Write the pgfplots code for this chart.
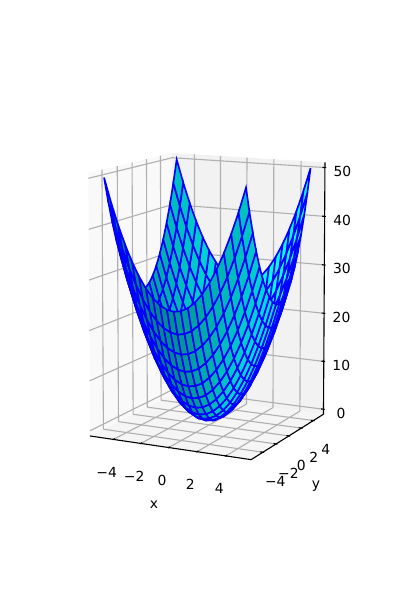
\documentclass[border=0pt]{standalone}
\usepackage{fontspec}
\setmainfont{DejaVu Sans}
\usepackage{pgfplots}
\pgfplotsset{compat=1.18}
% perspective projection (matplotlib elev 8, azim -63.5) instead of the parallel one of pgfplots
\makeatletter
\def\pgfplotsqpointxyz#1#2#3{\begingroup
\pgfmathparse{1/(1-(.003856*(#1)-.007734*(#2)+.000267*((#3)-25)))}\let\pf\pgfmathresult
\pgfmathparse{150.7+126.14*\pf*(.07811*(#1)+.03894*(#2))}\global\pgf@x=\pgfmathresult pt
\pgfmathparse{218.09+187.06*\pf*(-.005420*(#1)+.010870*(#2)+.019015*((#3)-25))}\global\pgf@y=\pgfmathresult pt
\endgroup}
\makeatother
\tikzset{
  xl/.style={font=\fontsize{10}{12}\selectfont,xshift=-4.8pt,yshift=-23.6pt},
  yl/.style={font=\fontsize{10}{12}\selectfont,xshift=8.9pt,yshift=-21pt},
  zl/.style={font=\fontsize{10}{12}\selectfont,xshift=12.6pt,yshift=-2.8pt},
}
\pgfplotstableread[row sep=\\]{
x y z\\
-5 -5 50\\-4.5 -5 45.25\\-4 -5 41\\-3.5 -5 37.25\\-3 -5 34\\-2.5 -5 31.25\\-2 -5 29\\-1.5 -5 27.25\\-1 -5 26\\-0.5 -5 25.25\\0 -5 25\\0.5 -5 25.25\\1 -5 26\\1.5 -5 27.25\\2 -5 29\\2.5 -5 31.25\\3 -5 34\\3.5 -5 37.25\\4 -5 41\\4.5 -5 45.25\\5 -5 50\\
-5 -4.5 45.25\\-4.5 -4.5 40.5\\-4 -4.5 36.25\\-3.5 -4.5 32.5\\-3 -4.5 29.25\\-2.5 -4.5 26.5\\-2 -4.5 24.25\\-1.5 -4.5 22.5\\-1 -4.5 21.25\\-0.5 -4.5 20.5\\0 -4.5 20.25\\0.5 -4.5 20.5\\1 -4.5 21.25\\1.5 -4.5 22.5\\2 -4.5 24.25\\2.5 -4.5 26.5\\3 -4.5 29.25\\3.5 -4.5 32.5\\4 -4.5 36.25\\4.5 -4.5 40.5\\5 -4.5 45.25\\
-5 -4 41\\-4.5 -4 36.25\\-4 -4 32\\-3.5 -4 28.25\\-3 -4 25\\-2.5 -4 22.25\\-2 -4 20\\-1.5 -4 18.25\\-1 -4 17\\-0.5 -4 16.25\\0 -4 16\\0.5 -4 16.25\\1 -4 17\\1.5 -4 18.25\\2 -4 20\\2.5 -4 22.25\\3 -4 25\\3.5 -4 28.25\\4 -4 32\\4.5 -4 36.25\\5 -4 41\\
-5 -3.5 37.25\\-4.5 -3.5 32.5\\-4 -3.5 28.25\\-3.5 -3.5 24.5\\-3 -3.5 21.25\\-2.5 -3.5 18.5\\-2 -3.5 16.25\\-1.5 -3.5 14.5\\-1 -3.5 13.25\\-0.5 -3.5 12.5\\0 -3.5 12.25\\0.5 -3.5 12.5\\1 -3.5 13.25\\1.5 -3.5 14.5\\2 -3.5 16.25\\2.5 -3.5 18.5\\3 -3.5 21.25\\3.5 -3.5 24.5\\4 -3.5 28.25\\4.5 -3.5 32.5\\5 -3.5 37.25\\
-5 -3 34\\-4.5 -3 29.25\\-4 -3 25\\-3.5 -3 21.25\\-3 -3 18\\-2.5 -3 15.25\\-2 -3 13\\-1.5 -3 11.25\\-1 -3 10\\-0.5 -3 9.25\\0 -3 9\\0.5 -3 9.25\\1 -3 10\\1.5 -3 11.25\\2 -3 13\\2.5 -3 15.25\\3 -3 18\\3.5 -3 21.25\\4 -3 25\\4.5 -3 29.25\\5 -3 34\\
-5 -2.5 31.25\\-4.5 -2.5 26.5\\-4 -2.5 22.25\\-3.5 -2.5 18.5\\-3 -2.5 15.25\\-2.5 -2.5 12.5\\-2 -2.5 10.25\\-1.5 -2.5 8.5\\-1 -2.5 7.25\\-0.5 -2.5 6.5\\0 -2.5 6.25\\0.5 -2.5 6.5\\1 -2.5 7.25\\1.5 -2.5 8.5\\2 -2.5 10.25\\2.5 -2.5 12.5\\3 -2.5 15.25\\3.5 -2.5 18.5\\4 -2.5 22.25\\4.5 -2.5 26.5\\5 -2.5 31.25\\
-5 -2 29\\-4.5 -2 24.25\\-4 -2 20\\-3.5 -2 16.25\\-3 -2 13\\-2.5 -2 10.25\\-2 -2 8\\-1.5 -2 6.25\\-1 -2 5\\-0.5 -2 4.25\\0 -2 4\\0.5 -2 4.25\\1 -2 5\\1.5 -2 6.25\\2 -2 8\\2.5 -2 10.25\\3 -2 13\\3.5 -2 16.25\\4 -2 20\\4.5 -2 24.25\\5 -2 29\\
-5 -1.5 27.25\\-4.5 -1.5 22.5\\-4 -1.5 18.25\\-3.5 -1.5 14.5\\-3 -1.5 11.25\\-2.5 -1.5 8.5\\-2 -1.5 6.25\\-1.5 -1.5 4.5\\-1 -1.5 3.25\\-0.5 -1.5 2.5\\0 -1.5 2.25\\0.5 -1.5 2.5\\1 -1.5 3.25\\1.5 -1.5 4.5\\2 -1.5 6.25\\2.5 -1.5 8.5\\3 -1.5 11.25\\3.5 -1.5 14.5\\4 -1.5 18.25\\4.5 -1.5 22.5\\5 -1.5 27.25\\
-5 -1 26\\-4.5 -1 21.25\\-4 -1 17\\-3.5 -1 13.25\\-3 -1 10\\-2.5 -1 7.25\\-2 -1 5\\-1.5 -1 3.25\\-1 -1 2\\-0.5 -1 1.25\\0 -1 1\\0.5 -1 1.25\\1 -1 2\\1.5 -1 3.25\\2 -1 5\\2.5 -1 7.25\\3 -1 10\\3.5 -1 13.25\\4 -1 17\\4.5 -1 21.25\\5 -1 26\\
-5 -0.5 25.25\\-4.5 -0.5 20.5\\-4 -0.5 16.25\\-3.5 -0.5 12.5\\-3 -0.5 9.25\\-2.5 -0.5 6.5\\-2 -0.5 4.25\\-1.5 -0.5 2.5\\-1 -0.5 1.25\\-0.5 -0.5 0.5\\0 -0.5 0.25\\0.5 -0.5 0.5\\1 -0.5 1.25\\1.5 -0.5 2.5\\2 -0.5 4.25\\2.5 -0.5 6.5\\3 -0.5 9.25\\3.5 -0.5 12.5\\4 -0.5 16.25\\4.5 -0.5 20.5\\5 -0.5 25.25\\
-5 0 25\\-4.5 0 20.25\\-4 0 16\\-3.5 0 12.25\\-3 0 9\\-2.5 0 6.25\\-2 0 4\\-1.5 0 2.25\\-1 0 1\\-0.5 0 0.25\\0 0 0\\0.5 0 0.25\\1 0 1\\1.5 0 2.25\\2 0 4\\2.5 0 6.25\\3 0 9\\3.5 0 12.25\\4 0 16\\4.5 0 20.25\\5 0 25\\
-5 0.5 25.25\\-4.5 0.5 20.5\\-4 0.5 16.25\\-3.5 0.5 12.5\\-3 0.5 9.25\\-2.5 0.5 6.5\\-2 0.5 4.25\\-1.5 0.5 2.5\\-1 0.5 1.25\\-0.5 0.5 0.5\\0 0.5 0.25\\0.5 0.5 0.5\\1 0.5 1.25\\1.5 0.5 2.5\\2 0.5 4.25\\2.5 0.5 6.5\\3 0.5 9.25\\3.5 0.5 12.5\\4 0.5 16.25\\4.5 0.5 20.5\\5 0.5 25.25\\
-5 1 26\\-4.5 1 21.25\\-4 1 17\\-3.5 1 13.25\\-3 1 10\\-2.5 1 7.25\\-2 1 5\\-1.5 1 3.25\\-1 1 2\\-0.5 1 1.25\\0 1 1\\0.5 1 1.25\\1 1 2\\1.5 1 3.25\\2 1 5\\2.5 1 7.25\\3 1 10\\3.5 1 13.25\\4 1 17\\4.5 1 21.25\\5 1 26\\
-5 1.5 27.25\\-4.5 1.5 22.5\\-4 1.5 18.25\\-3.5 1.5 14.5\\-3 1.5 11.25\\-2.5 1.5 8.5\\-2 1.5 6.25\\-1.5 1.5 4.5\\-1 1.5 3.25\\-0.5 1.5 2.5\\0 1.5 2.25\\0.5 1.5 2.5\\1 1.5 3.25\\1.5 1.5 4.5\\2 1.5 6.25\\2.5 1.5 8.5\\3 1.5 11.25\\3.5 1.5 14.5\\4 1.5 18.25\\4.5 1.5 22.5\\5 1.5 27.25\\
-5 2 29\\-4.5 2 24.25\\-4 2 20\\-3.5 2 16.25\\-3 2 13\\-2.5 2 10.25\\-2 2 8\\-1.5 2 6.25\\-1 2 5\\-0.5 2 4.25\\0 2 4\\0.5 2 4.25\\1 2 5\\1.5 2 6.25\\2 2 8\\2.5 2 10.25\\3 2 13\\3.5 2 16.25\\4 2 20\\4.5 2 24.25\\5 2 29\\
-5 2.5 31.25\\-4.5 2.5 26.5\\-4 2.5 22.25\\-3.5 2.5 18.5\\-3 2.5 15.25\\-2.5 2.5 12.5\\-2 2.5 10.25\\-1.5 2.5 8.5\\-1 2.5 7.25\\-0.5 2.5 6.5\\0 2.5 6.25\\0.5 2.5 6.5\\1 2.5 7.25\\1.5 2.5 8.5\\2 2.5 10.25\\2.5 2.5 12.5\\3 2.5 15.25\\3.5 2.5 18.5\\4 2.5 22.25\\4.5 2.5 26.5\\5 2.5 31.25\\
-5 3 34\\-4.5 3 29.25\\-4 3 25\\-3.5 3 21.25\\-3 3 18\\-2.5 3 15.25\\-2 3 13\\-1.5 3 11.25\\-1 3 10\\-0.5 3 9.25\\0 3 9\\0.5 3 9.25\\1 3 10\\1.5 3 11.25\\2 3 13\\2.5 3 15.25\\3 3 18\\3.5 3 21.25\\4 3 25\\4.5 3 29.25\\5 3 34\\
-5 3.5 37.25\\-4.5 3.5 32.5\\-4 3.5 28.25\\-3.5 3.5 24.5\\-3 3.5 21.25\\-2.5 3.5 18.5\\-2 3.5 16.25\\-1.5 3.5 14.5\\-1 3.5 13.25\\-0.5 3.5 12.5\\0 3.5 12.25\\0.5 3.5 12.5\\1 3.5 13.25\\1.5 3.5 14.5\\2 3.5 16.25\\2.5 3.5 18.5\\3 3.5 21.25\\3.5 3.5 24.5\\4 3.5 28.25\\4.5 3.5 32.5\\5 3.5 37.25\\
-5 4 41\\-4.5 4 36.25\\-4 4 32\\-3.5 4 28.25\\-3 4 25\\-2.5 4 22.25\\-2 4 20\\-1.5 4 18.25\\-1 4 17\\-0.5 4 16.25\\0 4 16\\0.5 4 16.25\\1 4 17\\1.5 4 18.25\\2 4 20\\2.5 4 22.25\\3 4 25\\3.5 4 28.25\\4 4 32\\4.5 4 36.25\\5 4 41\\
-5 4.5 45.25\\-4.5 4.5 40.5\\-4 4.5 36.25\\-3.5 4.5 32.5\\-3 4.5 29.25\\-2.5 4.5 26.5\\-2 4.5 24.25\\-1.5 4.5 22.5\\-1 4.5 21.25\\-0.5 4.5 20.5\\0 4.5 20.25\\0.5 4.5 20.5\\1 4.5 21.25\\1.5 4.5 22.5\\2 4.5 24.25\\2.5 4.5 26.5\\3 4.5 29.25\\3.5 4.5 32.5\\4 4.5 36.25\\4.5 4.5 40.5\\5 4.5 45.25\\
-5 5 50\\-4.5 5 45.25\\-4 5 41\\-3.5 5 37.25\\-3 5 34\\-2.5 5 31.25\\-2 5 29\\-1.5 5 27.25\\-1 5 26\\-0.5 5 25.25\\0 5 25\\0.5 5 25.25\\1 5 26\\1.5 5 27.25\\2 5 29\\2.5 5 31.25\\3 5 34\\3.5 5 37.25\\4 5 41\\4.5 5 45.25\\5 5 50\\
}\surface
\begin{document}
\begin{tikzpicture}
\makeatletter
\pgfplotsqpointxyz{0}{0}{0}\xdef\ox{\the\pgf@x}\xdef\oy{\the\pgf@y}
\makeatother
\begin{axis}[
  disabledatascaling,
  view={26.5}{8},
  at={(\ox,\oy)}, anchor=origin,
  set layers, clip=false,
  xmin=-5.729, xmax=5.729, ymin=-5.729, ymax=5.729, zmin=-1.04, zmax=51.04,
  xtick={-4,-2,0,2,4}, ytick={-4,-2,0,2,4}, ztick={0,10,20,30,40,50},
  xticklabels={}, yticklabels={}, zticklabels={},
  xlabel={x}, ylabel={y},
  x label style={at={(axis cs:0,-5.729,-1.04)},anchor=center,xshift=-10.6pt,yshift=-41.4pt,rotate=0,font=\fontsize{10}{12}\selectfont},
  y label style={at={(axis cs:5.729,0,-1.04)},anchor=center,xshift=19.5pt,yshift=-36pt,rotate=0,font=\fontsize{10}{12}\selectfont},
  grid=major, grid style={color=black!31,line width=0.8pt},
  axis line style={draw=none},
  tick style={draw=none}, major tick length=0pt,
  colormap={shade}{rgb=(0,0.5,0.5) rgb=(0,1,1)},
  unbounded coords=jump,
]
% panes
\addplot3[on layer=axis background,draw=none,fill=black!2.5] coordinates {(-5.729,-5.729,-1.04) (-5.729,5.729,-1.04) (-5.729,5.729,51.04) (-5.729,-5.729,51.04)} -- cycle;
\addplot3[on layer=axis background,draw=none,fill=black!5] coordinates {(-5.729,5.729,-1.04) (5.729,5.729,-1.04) (5.729,5.729,51.04) (-5.729,5.729,51.04)} -- cycle;
\addplot3[on layer=axis background,draw=none,fill=black!3.75] coordinates {(-5.729,-5.729,-1.04) (5.729,-5.729,-1.04) (5.729,5.729,-1.04) (-5.729,5.729,-1.04)} -- cycle;
% axis lines and tick marks
\addplot3[black,line width=0.8pt] coordinates {(-5.729,-5.729,-1.04) (5.729,-5.729,-1.04) (5.729,5.729,-1.04) (5.729,5.729,51.04)};
\addplot3[black,line width=0.8pt] coordinates {
 (-4,-5.82,-1.04) (-4,-5.546,-1.04) (nan,nan,nan) (-2,-5.82,-1.04) (-2,-5.546,-1.04) (nan,nan,nan)
 (0,-5.82,-1.04) (0,-5.546,-1.04) (nan,nan,nan) (2,-5.82,-1.04) (2,-5.546,-1.04) (nan,nan,nan)
 (4,-5.82,-1.04) (4,-5.546,-1.04) (nan,nan,nan)
 (5.82,-4,-1.04) (5.546,-4,-1.04) (nan,nan,nan) (5.82,-2,-1.04) (5.546,-2,-1.04) (nan,nan,nan)
 (5.82,0,-1.04) (5.546,0,-1.04) (nan,nan,nan) (5.82,2,-1.04) (5.546,2,-1.04) (nan,nan,nan)
 (5.82,4,-1.04) (5.546,4,-1.04) (nan,nan,nan)
 (5.82,5.729,0) (5.546,5.729,0) (nan,nan,nan) (5.82,5.729,10) (5.546,5.729,10) (nan,nan,nan)
 (5.82,5.729,20) (5.546,5.729,20) (nan,nan,nan) (5.82,5.729,30) (5.546,5.729,30) (nan,nan,nan)
 (5.82,5.729,40) (5.546,5.729,40) (nan,nan,nan) (5.82,5.729,50) (5.546,5.729,50)};
% surface
\addplot3[surf,shader=faceted,faceted color=blue,line width=1.2pt,z buffer=sort,
  mesh/rows=21,mesh/cols=21,
  point meta={(1.3333*(\thisrow{x}+\thisrow{y})+0.3333)/sqrt(4*\thisrow{x}*\thisrow{x}+4*\thisrow{y}*\thisrow{y}+1)},
  point meta min=-0.92,point meta max=0.96] table[x=x,y=y,z=z] {\surface};
% tick labels
\node[xl] at (axis cs:-4,-5.729,-1.04) {−4};
\node[xl] at (axis cs:-2,-5.729,-1.04) {−2};
\node[xl] at (axis cs:0,-5.729,-1.04) {0};
\node[xl] at (axis cs:2,-5.729,-1.04) {2};
\node[xl] at (axis cs:4,-5.729,-1.04) {4};
\node[yl] at (axis cs:5.729,-4,-1.04) {−4};
\node[yl] at (axis cs:5.729,-2,-1.04) {−2};
\node[yl] at (axis cs:5.729,0,-1.04) {0};
\node[yl] at (axis cs:5.729,2,-1.04) {2};
\node[yl] at (axis cs:5.729,4,-1.04) {4};
\node[zl] at (axis cs:5.729,5.729,0) {0};
\node[zl] at (axis cs:5.729,5.729,10) {10};
\node[zl] at (axis cs:5.729,5.729,20) {20};
\node[zl] at (axis cs:5.729,5.729,30) {30};
\node[zl] at (axis cs:5.729,5.729,40) {40};
\node[zl] at (axis cs:5.729,5.729,50) {50};
\end{axis}
\pgfresetboundingbox
\useasboundingbox (0,0) rectangle (288pt,432pt);
\end{tikzpicture}
\end{document}
